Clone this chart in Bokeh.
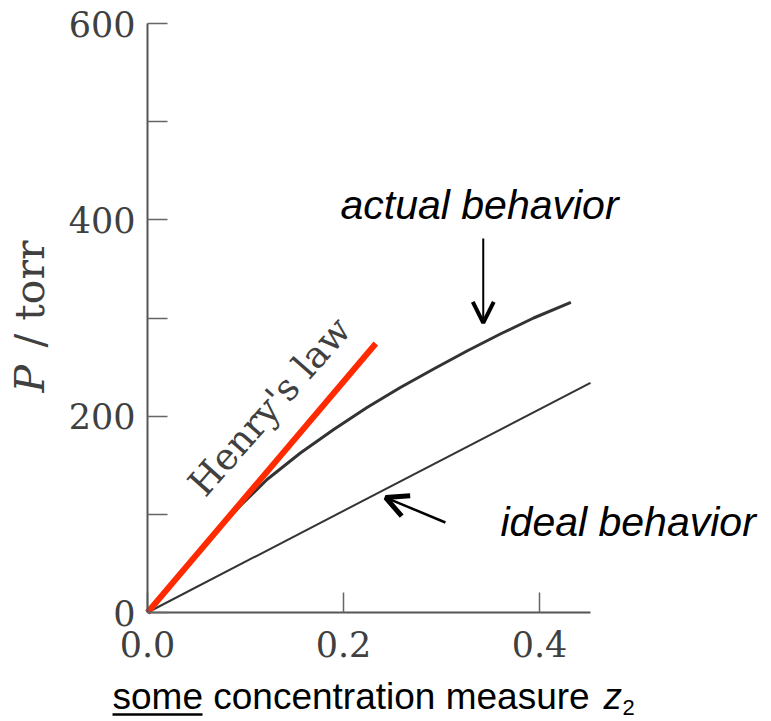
from math import pi, radians, sin, cos
from bokeh.plotting import figure
from bokeh.models import FixedTicker, Label, Arrow, OpenHead, Range1d
from bokeh.embed import file_html
from bokeh.resources import INLINE

# ---- data ----
ideal_z = [0.0, 0.452]
ideal_p = [0.0, 234.0]

henry_z = [0.0, 0.233]
henry_p = [0.0, 274.0]

actual_z = [0.0, 0.044, 0.069, 0.095, 0.122, 0.156, 0.190, 0.224, 0.258, 0.292, 0.326, 0.360, 0.394, 0.432]
actual_p = [0.0, 52.0, 81.5, 109.0, 135.5, 162.5, 186.4, 208.8, 229.2, 248.0, 266.4, 283.7, 300.0, 315.8]

x_ticks = [0.0, 0.2, 0.4]
x_tick_labels = ["0.0", "0.2", "0.4"]
y_ticks = [0, 200, 400, 600]
y_minor_ticks = [100, 300, 500]
y_tick_labels = ["0", "200", "400", "600"]
x_axis_end = 0.452
y_axis_end = 600

# ---- layout (pixels) ----
W, H = 771, 721
X0, Y0 = 147, 612          # where the origin sits on the canvas
PX_PER_Z = 980.0
PX_PER_P = 589.0 / 600.0

p = figure(width=W, height=H,
           x_range=Range1d(-X0 / PX_PER_Z, (W - X0) / PX_PER_Z),
           y_range=Range1d(-(H - Y0) / PX_PER_P, Y0 / PX_PER_P),
           output_backend="svg", toolbar_location=None,
           min_border_left=0, min_border_right=0,
           min_border_top=0, min_border_bottom=0)
p.outline_line_color = None
p.xgrid.visible = False
p.ygrid.visible = False
p.background_fill_color = "white"
p.border_fill_color = "white"

serif = "DejaVu Serif"
sans = "Liberation Sans"
axis_grey = "#555555"
text_grey = "#404040"

xa, ya = p.xaxis[0], p.yaxis[0]
xa.fixed_location = 0
ya.fixed_location = 0
xa.bounds = (0, x_axis_end)
ya.bounds = (0, y_axis_end)

for ax in (xa, ya):
    ax.axis_line_color = axis_grey
    ax.axis_line_width = 2
    ax.major_tick_in = 20
    ax.major_tick_out = 0
    ax.minor_tick_in = 20
    ax.minor_tick_out = 0
    ax.major_tick_line_color = "#666666"
    ax.major_tick_line_width = 1.5
    ax.minor_tick_line_color = "#666666"
    ax.minor_tick_line_width = 1.5
    ax.major_label_text_font = serif
    ax.major_label_text_font_size = "35px"
    ax.major_label_text_color = text_grey
xa.major_label_standoff = 18
ya.major_label_standoff = 12

xa.ticker = FixedTicker(ticks=x_ticks, minor_ticks=[])
xa.major_label_overrides = dict(zip(x_ticks, x_tick_labels))
ya.ticker = FixedTicker(ticks=y_ticks, minor_ticks=y_minor_ticks)
ya.major_label_overrides = dict(zip(y_ticks, y_tick_labels))

# ---- curves ----
p.line(ideal_z, ideal_p, line_color="#333333", line_width=2)
p.line(actual_z, actual_p, line_color="#333333", line_width=3)
p.line(henry_z, henry_p, line_color="#ff2a00", line_width=6)

# ---- arrows pointing at the curves ----
p.add_layout(Arrow(x_start=0.3426, y_start=381, x_end=0.3426, y_end=295,
                   line_color="black", line_width=2,
                   end=OpenHead(size=21, line_width=4, line_color="black")))
p.add_layout(Arrow(x_start=0.304, y_start=91.7, x_end=0.243, y_end=117.1,
                   line_color="black", line_width=2.5,
                   end=OpenHead(size=22, line_width=5, line_color="black")))

# ---- texts: (px, py) is the wanted start of the baseline, canvas pixels from top-left ----
def lab(text, px, py, font, size_px, color="black", style="normal", angle=0.0):
    s = 0.38 * size_px                      # measured baseline offset of rendered labels
    ax_ = px - s * sin(angle)
    ay_ = py - s * cos(angle)
    p.add_layout(Label(x=ax_, y=H - ay_, x_units="screen", y_units="screen", text=text,
                       text_font=font, text_font_size=f"{size_px}px", text_color=color,
                       text_font_style=style, angle=angle,
                       text_align="left", text_baseline="alphabetic"))

lab("actual behavior", 340, 220, sans, 41, style="italic")
lab("ideal behavior", 500, 537, sans, 41, style="italic")
lab("Henry's law", 206, 499, serif, 37, color=text_grey, angle=radians(48.6))

lab("P", 45, 392, serif, 41, color=text_grey, style="italic", angle=pi / 2)
lab("/ torr", 45, 347, serif, 41, color=text_grey, angle=pi / 2)

lab("some concentration measure", 112, 710, sans, 37)
lab("z", 603, 710, sans, 37, style="italic")
lab("2", 622, 715, sans, 22)
p.add_layout(Arrow(x_start=112, y_start=H - 714, x_end=202, y_end=H - 714,
                   start_units="screen", end_units="screen",
                   line_color="black", line_width=2.5, end=None, start=None))

open("out.html", "w").write(file_html(p, INLINE))
